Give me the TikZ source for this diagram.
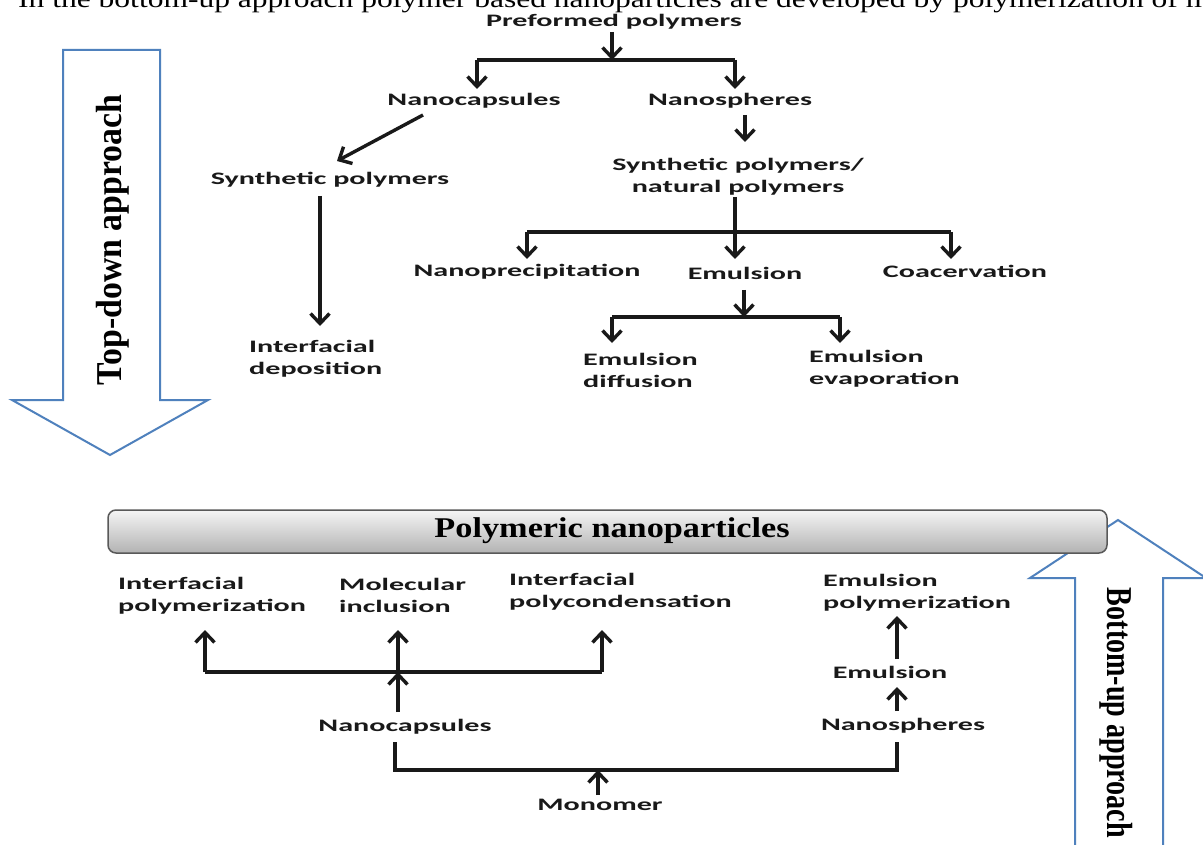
\documentclass[tikz,border=0pt]{standalone}
\usepackage{fontspec}
\usepackage{graphicx}
\usetikzlibrary{arrows.meta}
\newfontfamily\labfam{Carlito}[FakeStretch=1.72]
\newfontfamily\tmsfam{Liberation Serif}
\definecolor{bluearrow}{RGB}{79,129,189}
\definecolor{txt}{RGB}{25,25,25}
\begin{document}
\begin{tikzpicture}[x=1pt,y=-1pt,
  lab/.style={font=\labfam\bfseries\fontsize{17.5}{22}\selectfont, text=txt, inner sep=1pt},
  conn/.style={line width=3.4pt, draw=txt},
  arr/.style={conn, -{Straight Barb[length=10pt,width=19pt]}},
  bigarrow/.style={draw=bluearrow, line width=2pt, fill=white, line join=miter},
  pbox/.style={rounded corners=8pt, draw=black!65, line width=1.5pt, top color=black!4, bottom color=black!30}]
\useasboundingbox (0,0) rectangle (1203,845);
\fill[white] (0,0) rectangle (1203,845);

% clipped line of running text at the top
\node[anchor=base west, inner sep=0pt, text=black] (runtxt) at (18,8)
  {\resizebox{1192pt}{\height}{\tmsfam\fontsize{25}{28}\selectfont In the bottom-up approach polymer based nanoparticles are developed by polymerization of m}};

% big approach arrows
\draw[bigarrow] (63,50) -- (160,50) -- (160,400) -- (208,400) -- (110,455) -- (12,400) -- (63,400) -- cycle;
\node[inner sep=0pt, text=black] (topdown) at (113,240)
  {\rotatebox{90}{\resizebox*{290pt}{33pt}{\tmsfam\bfseries Top-down approach}}};
\draw[bigarrow] (1075,870) -- (1075,578) -- (1030,578) -- (1118,520) -- (1206,578) -- (1163,578) -- (1163,870) -- cycle;
\node[inner sep=0pt, text=black] (bottomup) at (1116,713)
  {\rotatebox{-90}{\resizebox*{250pt}{33pt}{\tmsfam\bfseries Bottom-up approach}}};

% central box
\path[pbox] (108,510) rectangle (1107,553);
\node[inner sep=0pt, text=black] (poly) at (612,531)
  {\resizebox*{355pt}{26pt}{\tmsfam\bfseries Polymeric nanoparticles}};

% ---------- top-down tree ----------
\node[lab] (pre) at (614,22) {Preformed polymers};
\node[lab] (ncap) at (474,101) {Nanocapsules};
\node[lab] (nsph) at (730,101) {Nanospheres};
\node[lab] (synp) at (330,180) {Synthetic polymers};
\node[lab, anchor=west, align=left] (idep) at (248,359) {Interfacial\\deposition};
\node[lab, align=center] (synnat) at (738,177) {Synthetic polymers/\\natural polymers};
\node[lab] (nprec) at (527,272) {Nanoprecipitation};
\node[lab] (emul) at (745,273) {Emulsion};
\node[lab] (coac) at (965,271) {Coacervation};
\node[lab, anchor=west, align=left] (ediff) at (582,370) {Emulsion\\diffusion};
\node[lab, anchor=west, align=left] (eevap) at (808,369) {Emulsion\\evaporation};

\coordinate (t0) at (612,32);
\coordinate (t1) at (612,60);
\coordinate (t1l) at (477,60);
\coordinate (t1r) at (735,60);
\draw[arr] (t0) -- (t1);
\draw[conn] (t1l) -- (t1r);
\draw[arr] (t1l) -- (477,89);
\draw[arr] (t1r) -- (735,89);

\draw[arr] (745,115) -- (745,142);
\draw[arr] (423,115) -- (337,161);
\draw[arr] (320,196) -- (320,326);

\coordinate (s0) at (735,197);
\coordinate (s1) at (735,232);
\coordinate (s1l) at (527,232);
\coordinate (s1r) at (951,232);
\draw[conn] (s0) -- (s1);
\draw[conn] (s1l) -- (s1r);
\draw[arr] (s1l) -- (527,259);
\draw[arr] (s1) -- (735,259);
\draw[arr] (s1r) -- (951,259);

\coordinate (e0) at (744,290);
\coordinate (e1) at (744,317);
\coordinate (e1l) at (612,317);
\coordinate (e1r) at (840,317);
\draw[arr] (e0) -- (e1);
\draw[conn] (e1l) -- (e1r);
\draw[arr] (e1l) -- (612,343);
\draw[arr] (e1r) -- (840,343);

% ---------- bottom-up tree ----------
\node[lab, anchor=west, align=left] (ipol) at (117,596) {Interfacial\\polymerization};
\node[lab, anchor=west, align=left] (minc) at (338,595) {Molecular\\inclusion};
\node[lab, anchor=west, align=left] (ipcd) at (508,592) {Interfacial\\polycondensation};
\node[lab, anchor=west, align=left] (epol) at (822,593) {Emulsion\\polymerization};
\node[lab] (ncap2) at (405,727) {Nanocapsules};
\node[lab] (nsph2) at (903,726) {Nanospheres};
\node[lab] (emul2) at (890,672) {Emulsion};
\node[lab] (mono) at (600,805) {Monomer};

\coordinate (b1) at (205,672);
\coordinate (b2) at (398,672);
\coordinate (b3) at (602,672);
\draw[conn] (b1) -- (b3);
\draw[arr] (b1) -- (205,630);
\draw[arr] (b2) -- (398,630);
\draw[arr] (b3) -- (602,630);
\draw[arr] (398,712) -- (b2);

\coordinate (m1) at (395,742);
\coordinate (m2) at (395,770);
\coordinate (m3) at (897,770);
\coordinate (m4) at (897,742);
\draw[conn, line join=miter] (m1) -- (m2) -- (m3) -- (m4);
\draw[arr] (598,795) -- (598,770);

\draw[arr] (897,711) -- (897,687);
\draw[arr] (897,659) -- (897,616);
\end{tikzpicture}
\end{document}
